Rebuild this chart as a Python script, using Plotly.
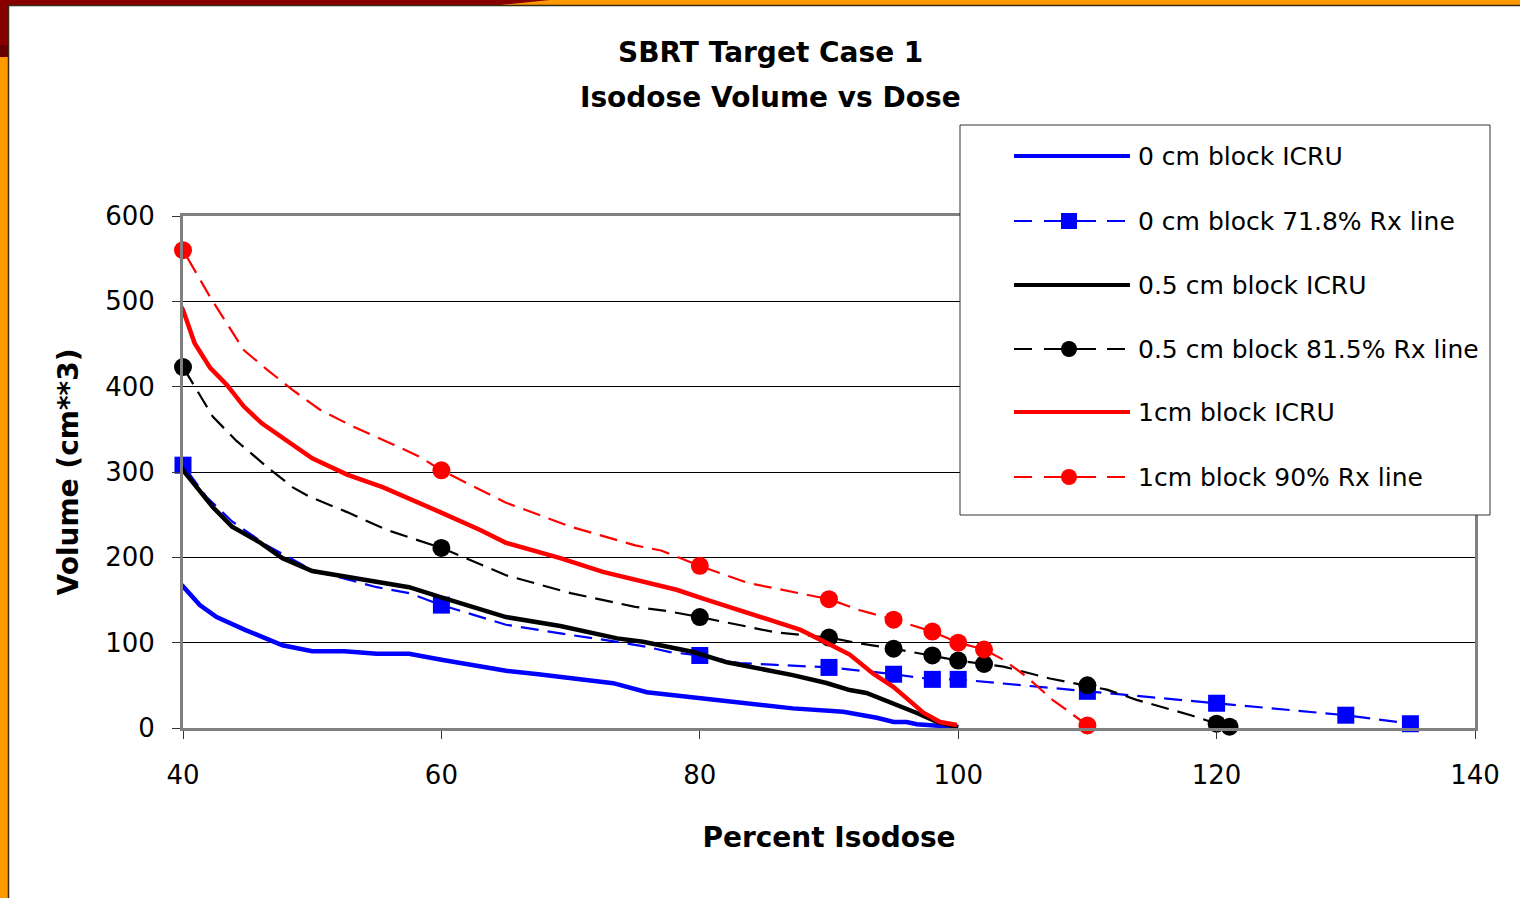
import plotly.graph_objects as go

# ---------------- data ----------------
x0_icru = [39.4, 40, 41.3, 42.6, 44.8, 47.7, 50, 52.5, 55, 57.5, 60, 62.5, 65, 67.5, 69.2, 73.3, 75.9,
           79.5, 83.3, 87.2, 91.1, 93.7, 95, 96, 96.8, 100]
y0_icru = [175, 166, 144, 130, 115, 97, 90, 90, 87, 87, 80, 74, 67, 63, 60, 52.5, 42,
           36, 29, 23, 19, 12, 7, 7, 4.4, 1]

x0_rx = [39.4, 40, 41.8, 43.8, 46.5, 50, 55, 57.5, 60, 65, 70, 73.6, 75.9, 77.7, 80, 83.1, 85.9,
         90, 93.2, 95, 98, 100, 110, 120, 130, 135]
y0_rx = [329, 308, 271, 242, 214, 185, 165, 158, 144, 121, 109, 101, 95, 89, 85, 76, 74,
         71, 66, 63, 57, 57, 43, 29, 15, 5]
m0_rx = [0, 1, 0, 0, 0, 0, 0, 0, 1, 0, 0, 0, 0, 0, 1, 0, 0,
         1, 0, 1, 1, 1, 1, 1, 1, 1]

x05_icru = [39.4, 40, 42.3, 43.8, 46, 47.7, 50, 55, 57.5, 60, 62.5, 65, 69.2, 73.6, 75.6, 77.7, 79.5,
            82.1, 84.7, 87.2, 89.8, 91.6, 92.9, 95, 96.8, 98.4, 100]
y05_icru = [320, 302, 259, 236, 217, 199, 184, 172, 165, 153, 142, 130, 119.5, 105, 101, 95, 89,
            77, 70, 62, 52.7, 44.5, 41, 29, 17.6, 7, 1]

x05_rx = [39.4, 40, 42.3, 44.1, 46.5, 48.5, 49.8, 52.7, 55.8, 58.9, 60, 65, 70, 75, 77.5, 80, 82.9,
          85.9, 90, 92.4, 95, 98, 100, 102, 103.5, 107.1, 110, 111.5, 113.8, 116.2, 118, 120, 121]
y05_rx = [451, 423, 365, 337, 306, 282, 271, 253, 232, 217, 211, 179, 158, 142, 137, 130, 121,
          112, 106, 99, 93, 85, 79, 75, 72, 58, 50, 45, 33, 23, 15, 5, 1.5]
m05_rx = [0, 1, 0, 0, 0, 0, 0, 0, 0, 0, 1, 0, 0, 0, 0, 1, 0,
          0, 1, 0, 1, 1, 1, 1, 0, 0, 1, 0, 0, 0, 0, 1, 1]

x1_icru = [39.4, 40, 40.9, 42.1, 43.4, 44.7, 46.1, 47.7, 50, 52.7, 55.5, 59.9, 63, 65, 69.2, 72.5,
           75.6, 78.2, 80.2, 83.7, 87.8, 89.8, 91.6, 93.4, 95, 96, 97.3, 98.6, 99.9]
y1_icru = [505, 490, 451, 422, 402, 377, 357, 340, 316, 297, 282, 253, 232, 217, 199, 183,
           171, 162, 152, 135, 115, 100, 86, 64, 48, 35, 18, 7, 3.5]

x1_rx = [39.4, 40, 42.1, 43.4, 44.7, 46.5, 48.5, 50.6, 53.2, 56.3, 58.3, 60, 65, 70, 75, 77, 80,
         83.7, 87.8, 90, 92.4, 95, 98, 100, 102, 103.5, 105.3, 107.3, 108.4, 110]
y1_rx = [580, 560, 505, 474, 443, 420, 396, 373, 353, 332, 318, 302, 264, 236, 214, 208, 190,
         170, 158, 151, 138, 127, 113, 100, 92, 80, 60, 33, 21, 3]
m1_rx = [0, 1, 0, 0, 0, 0, 0, 0, 0, 0, 0, 1, 0, 0, 0, 0, 1,
         0, 0, 1, 0, 1, 1, 1, 1, 0, 0, 0, 0, 1]

series_names = ["0 cm block ICRU", "0 cm block 71.8% Rx line", "0.5 cm block ICRU",
                "0.5 cm block 81.5% Rx line", "1cm block ICRU", "1cm block 90% Rx line"]
title_lines = ["SBRT Target Case 1", "Isodose Volume vs Dose"]
x_title = "Percent Isodose"
y_title = "Volume (cm**3)"
x_ticks = [40, 60, 80, 100, 120, 140]
y_ticks = [0, 100, 200, 300, 400, 500, 600]

# ---------------- geometry helpers (pixel -> paper) ----------------
W, H = 1520, 898
L, R, T, B = 183, 45, 216, 170
PW, PH = W - L - R, H - T - B


def px(x):
    return (x - L) / PW


def py(y):
    return (H - B - y) / PH


BLUE, BLACK, RED = "#0000FF", "#000000", "#FF0000"
DASH = "18px,9px"

fig = go.Figure()

solid = [(x0_icru, y0_icru, BLUE), (x05_icru, y05_icru, BLACK), (x1_icru, y1_icru, RED)]
dashed = [(x0_rx, y0_rx, m0_rx, BLUE, "square", 17),
          (x05_rx, y05_rx, m05_rx, BLACK, "circle", 18),
          (x1_rx, y1_rx, m1_rx, RED, "circle", 18)]

for i in range(3):
    xs, ys, c = solid[i]
    fig.add_trace(go.Scatter(x=xs, y=ys, mode="lines", name=series_names[2 * i],
                             line=dict(color=c, width=4.5), showlegend=False))
    xs, ys, ms, c, sym, sz = dashed[i]
    fig.add_trace(go.Scatter(x=xs, y=ys, mode="lines", name=series_names[2 * i + 1],
                             line=dict(color=c, width=2.2, dash=DASH), showlegend=False))
    fig.add_trace(go.Scatter(x=[a for a, m in zip(xs, ms) if m], y=[b for b, m in zip(ys, ms) if m],
                             mode="markers", name=series_names[2 * i + 1], cliponaxis=False,
                             marker=dict(color=c, symbol=sym, size=sz, line=dict(width=0)),
                             showlegend=False))

shapes = []
# slide frame decoration
shapes.append(dict(type="rect", xref="paper", yref="paper", x0=px(0), x1=px(W), y0=py(0), y1=py(5),
                   fillcolor="#FF9900", line=dict(width=0), layer="above"))
shapes.append(dict(type="path", xref="paper", yref="paper",
                   path=f"M{px(0)},{py(0)} L{px(550)},{py(0)} L{px(500)},{py(5)} L{px(0)},{py(5)} Z",
                   fillcolor="#870000", line=dict(width=0), layer="above"))
shapes.append(dict(type="rect", xref="paper", yref="paper", x0=px(0), x1=px(8), y0=py(0), y1=py(H),
                   fillcolor="#FF9900", line=dict(width=0), layer="above"))
shapes.append(dict(type="rect", xref="paper", yref="paper", x0=px(0), x1=px(8), y0=py(0), y1=py(45),
                   fillcolor="#870000", line=dict(width=0), layer="above"))
shapes.append(dict(type="rect", xref="paper", yref="paper", x0=px(0), x1=px(8), y0=py(45), y1=py(57),
                   fillcolor="#660000", line=dict(width=0), layer="above"))
shapes.append(dict(type="line", xref="paper", yref="paper", x0=px(8), x1=px(W), y0=py(5.5), y1=py(5.5),
                   line=dict(color="#3a2a14", width=1.5), layer="above"))
shapes.append(dict(type="line", xref="paper", yref="paper", x0=px(8.5), x1=px(8.5), y0=py(5), y1=py(H),
                   line=dict(color="#3a2a14", width=1.5), layer="above"))

# manual legend box
shapes.append(dict(type="rect", xref="paper", yref="paper", x0=px(960), x1=px(1490), y0=py(125), y1=py(515),
                   fillcolor="white", line=dict(color="#333333", width=1), layer="above"))

annotations = []
item_y = [156, 221, 285, 349, 412, 477]
colors = [BLUE, BLUE, BLACK, BLACK, RED, RED]
for k, name in enumerate(series_names):
    yy = py(item_y[k])
    if k % 2 == 0:
        shapes.append(dict(type="line", xref="paper", yref="paper", x0=px(1014), x1=px(1130), y0=yy, y1=yy,
                           line=dict(color=colors[k], width=4), layer="above"))
    else:
        for a, b in [(1014, 1032), (1044, 1096), (1107, 1125)]:
            shapes.append(dict(type="line", xref="paper", yref="paper", x0=px(a), x1=px(b), y0=yy, y1=yy,
                               line=dict(color=colors[k], width=2), layer="above"))
        if k == 1:
            shapes.append(dict(type="rect", xref="paper", yref="paper", x0=px(1061), x1=px(1077),
                               y0=yy - 8 / PH, y1=yy + 8 / PH, fillcolor=colors[k],
                               line=dict(width=0), layer="above"))
        else:
            shapes.append(dict(type="circle", xref="paper", yref="paper", x0=px(1061), x1=px(1077),
                               y0=yy - 8 / PH, y1=yy + 8 / PH, fillcolor=colors[k],
                               line=dict(width=0), layer="above"))
    annotations.append(dict(xref="paper", yref="paper", x=px(1136), y=yy, xanchor="left", yanchor="middle",
                            text=name, showarrow=False,
                            font=dict(family="DejaVu Sans", size=25, color="black")))

# title lines
for t, yp in zip(title_lines, [52, 97]):
    annotations.append(dict(xref="paper", yref="paper", x=px(770), y=py(yp), xanchor="center",
                            yanchor="middle", text=f"<b>{t}</b>", showarrow=False,
                            font=dict(family="DejaVu Sans", size=28, color="black")))

axis_common = dict(showline=True, linecolor="#808080", linewidth=3, mirror=True,
                   ticks="outside", ticklen=8, tickwidth=1, tickcolor="#333333",
                   tickfont=dict(family="DejaVu Sans", size=26, color="black"),
                   zeroline=False)

fig.update_layout(
    width=W, height=H,
    margin=dict(l=L, r=R, t=T, b=B),
    paper_bgcolor="white", plot_bgcolor="white",
    showlegend=False,
    shapes=shapes,
    annotations=annotations,
    xaxis=dict(range=[40, 140], tickvals=x_ticks, showgrid=False, ticklabelstandoff=14,
               title=dict(text=f"<b>{x_title}</b>", standoff=39,
                          font=dict(family="DejaVu Sans", size=28, color="black")),
               **axis_common),
    yaxis=dict(range=[0, 600], tickvals=y_ticks, showgrid=True, gridcolor="black", gridwidth=1,
               ticklabelstandoff=12,
               title=dict(text=f"<b>{y_title}</b>", standoff=19,
                          font=dict(family="DejaVu Sans", size=28, color="black")),
               **axis_common),
)

fig.write_html("out.html", config={"displayModeBar": False},
               post_script="document.body.style.margin='0';document.body.style.overflow='hidden';")
